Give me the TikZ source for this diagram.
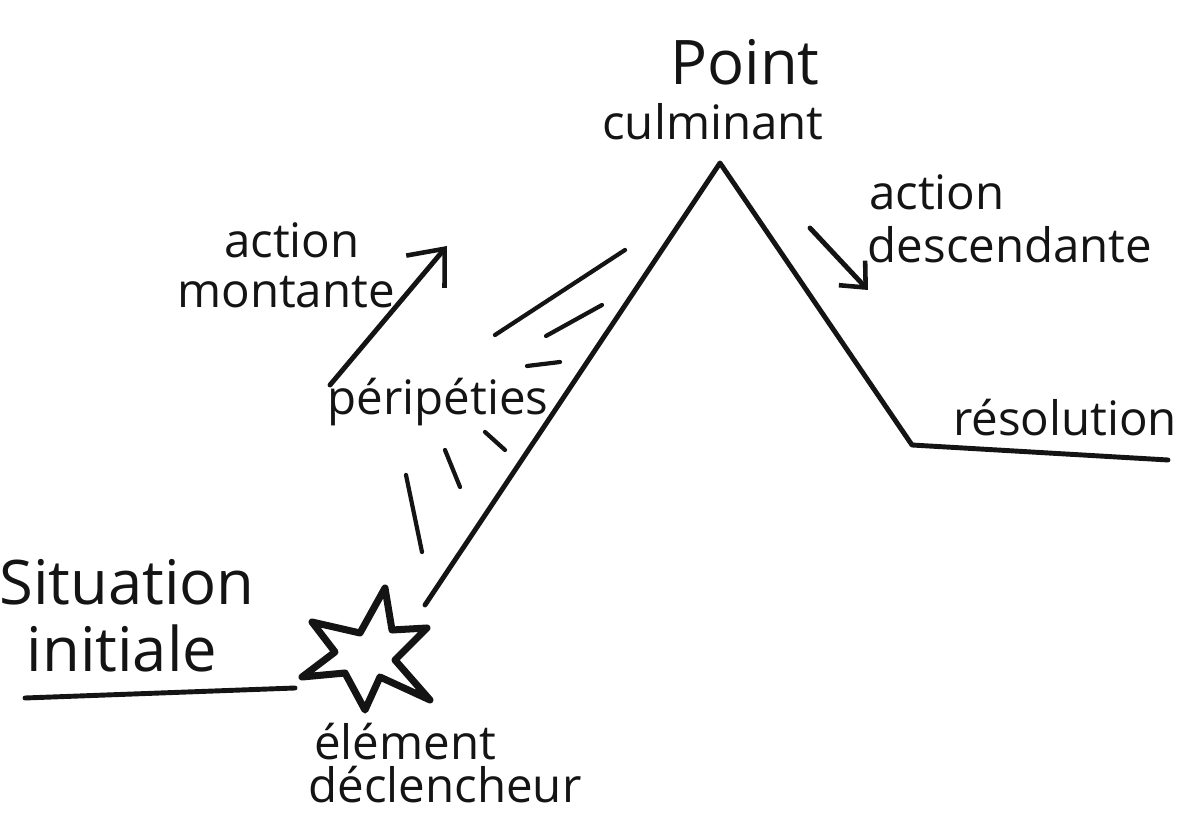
\documentclass[tikz,border=0pt]{standalone}
\usepackage{fontspec}
\setmainfont{Open Sans}
\usepackage{tikz}
\usetikzlibrary{positioning, arrows.meta}
\definecolor{ink}{RGB}{20, 20, 20}
\tikzset{
    stroke/.style={draw=ink, line width=1.4pt, line cap=round, line join=round},
    hatch/.style={stroke, line width=1.2pt},
    lbl/.style={text=ink, inner sep=0pt, font=\fontsize{13.5}{16}\selectfont},
    biglbl/.style={lbl, font=\fontsize{17.5}{21}\selectfont},
    barb/.style={-{Straight Barb[length=3mm, width=5mm, line width=1.3pt]}}
}
\begin{document}
\begin{tikzpicture}[x=1cm, y=-1cm]
    \useasboundingbox (0,0) rectangle (12,8.26);

    % plot line
    \coordinate (base0) at (0.25,6.98);
    \coordinate (base1) at (2.95,6.88);
    \coordinate (rise0) at (4.25,6.05);
    \coordinate (peak) at (7.20,1.63);
    \coordinate (fall1) at (9.12,4.45);
    \coordinate (res1) at (11.68,4.60);
    \draw[stroke] (base0) -- (base1);
    \draw[stroke] (rise0) -- (peak) -- (fall1) -- (res1);

    % trigger star
    \draw[stroke, line width=2pt] (3.02,6.77) -- (3.45,6.73) -- (3.65,7.10) -- (3.80,6.77)
        -- (4.30,7.00) -- (3.95,6.60) -- (4.27,6.28) -- (3.92,6.30) -- (3.85,5.88)
        -- (3.60,6.33) -- (3.12,6.22) -- (3.35,6.52) -- cycle;

    % labels
    \node[biglbl] (point) at (7.45,0.62) {Point};
    \node[lbl] (culm) at (7.13,1.22) {culminant};
    \node[lbl] (actd) at (9.37,1.92) {action};
    \node[lbl] (desc) at (10.10,2.45) {descendante};
    \node[lbl] (actm) at (2.92,2.40) {action};
    \node[lbl] (mont) at (2.86,2.92) {montante};
    \node[lbl] (peri) at (4.38,4.02) {péripéties};
    \node[lbl] (reso) at (10.65,4.18) {résolution};
    \node[biglbl] (sit) at (1.27,5.82) {Situation};
    \node[biglbl] (init) at (1.22,6.48) {initiale};
    \node[lbl] (elem) at (4.05,7.42) {élément};
    \node[lbl] (decl) at (4.45,7.85) {déclencheur};

    % arrows
    \coordinate (upA) at (3.30,3.85);
    \coordinate (upB) at (4.47,2.46);
    \coordinate (dnA) at (8.10,2.28);
    \coordinate (dnB) at (8.68,2.90);
    \draw[stroke, barb] (upA) -- (upB);
    \draw[stroke, -{Straight Barb[length=2mm, width=3.6mm, line width=1.3pt]}] (dnA) -- (dnB);

    % hatches
    \draw[hatch] (4.95,3.35) -- (6.25,2.50);
    \draw[hatch] (5.46,3.36) -- (6.02,3.05);
    \draw[hatch] (5.27,3.66) -- (5.60,3.62);
    \draw[hatch] (4.85,4.32) -- (5.05,4.50);
    \draw[hatch] (4.45,4.50) -- (4.60,4.87);
    \draw[hatch] (4.06,4.75) -- (4.22,5.52);
\end{tikzpicture}
\end{document}
